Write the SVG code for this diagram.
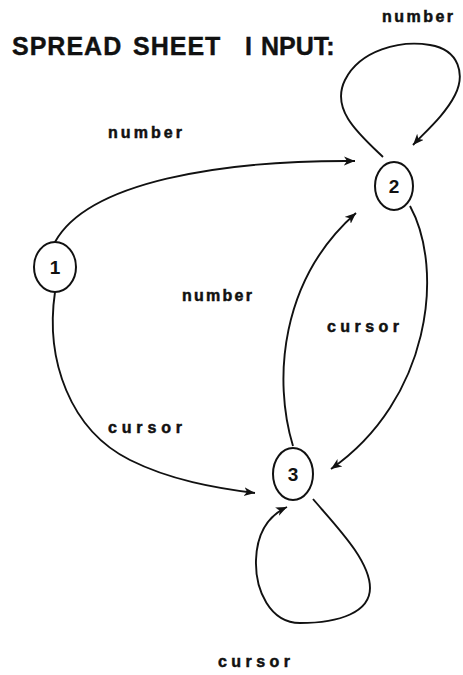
<svg xmlns="http://www.w3.org/2000/svg" width="463" height="675" viewBox="0 0 463 675">
  <style>
    .bg { fill: #ffffff; }
    .node ellipse { fill: none; stroke: #111; stroke-width: 2; }
    .node text { font-family: "Liberation Sans", Arial, sans-serif; font-weight: bold; font-size: 19px; fill: #111; text-anchor: middle; }
    .edge { fill: none; stroke: #111; stroke-width: 1.9; marker-end: url(#arr); }
    .lbl { font-family: "Liberation Sans", Arial, sans-serif; font-weight: bold; font-size: 16px; fill: #111; stroke: #111; stroke-width: 0.5; }
    .title { font-family: "Liberation Sans", Arial, sans-serif; font-weight: bold; font-size: 25px; fill: #111; stroke: #111; stroke-width: 0.4; }
  </style>
  <defs>
    <marker id="arr" markerUnits="userSpaceOnUse" markerWidth="12" markerHeight="10" refX="11" refY="4.5" orient="auto">
      <path d="M0,0 L11,4.5 L0,9 L3,4.5 z" fill="#111"/>
    </marker>
  </defs>
  <rect class="bg" x="0" y="0" width="463" height="675"/>

  <text class="title" y="55"><tspan x="12" letter-spacing="1">SPREAD</tspan> <tspan x="133" letter-spacing="1">SHEET</tspan> <tspan x="245">I</tspan><tspan x="261">NPUT:</tspan></text>

  <g id="connectors">
    <path id="e12" class="edge" d="M55,242 C 88,182 220,160 355,161"/>
    <path id="e22" class="edge" d="M383,157 C 360,135 330,110 345,80 C 360,50 400,40 430,45 C 460,50 465,75 455,95 C 445,115 425,132 413,145"/>
    <path id="e32" class="edge" d="M293,446 C 273,380 280,280 356,213"/>
    <path id="e23" class="edge" d="M410,206 C 445,270 430,400 331,469"/>
    <path id="e13" class="edge" d="M55,292 C 45,360 70,430 130,460 C 170,480 215,488 255,493"/>
    <path id="e33" class="edge" d="M313,499 C 335,525 370,560 370,588 C 370,612 340,623 300,623 C 270,623 255,590 256,560 C 257,530 270,515 287,507"/>
  </g>

  <g id="labels">
    <text class="lbl" x="382" y="22" textLength="71" lengthAdjust="spacing">number</text>
    <text class="lbl" x="108" y="138" textLength="74" lengthAdjust="spacing">number</text>
    <text class="lbl" x="182" y="301" textLength="70" lengthAdjust="spacing">number</text>
    <text class="lbl" x="327" y="332" textLength="72" lengthAdjust="spacing">cursor</text>
    <text class="lbl" x="108" y="433" textLength="74" lengthAdjust="spacing">cursor</text>
    <text class="lbl" x="218" y="667" textLength="72" lengthAdjust="spacing">cursor</text>
  </g>

  <g id="node1" class="node">
    <ellipse cx="55" cy="267" rx="21" ry="25"/>
    <text x="55" y="274">1</text>
  </g>
  <g id="node2" class="node">
    <ellipse cx="394" cy="186" rx="19" ry="24"/>
    <text x="394" y="193">2</text>
  </g>
  <g id="node3" class="node">
    <ellipse cx="293" cy="474" rx="20" ry="26"/>
    <text x="293" y="481">3</text>
  </g>
</svg>
